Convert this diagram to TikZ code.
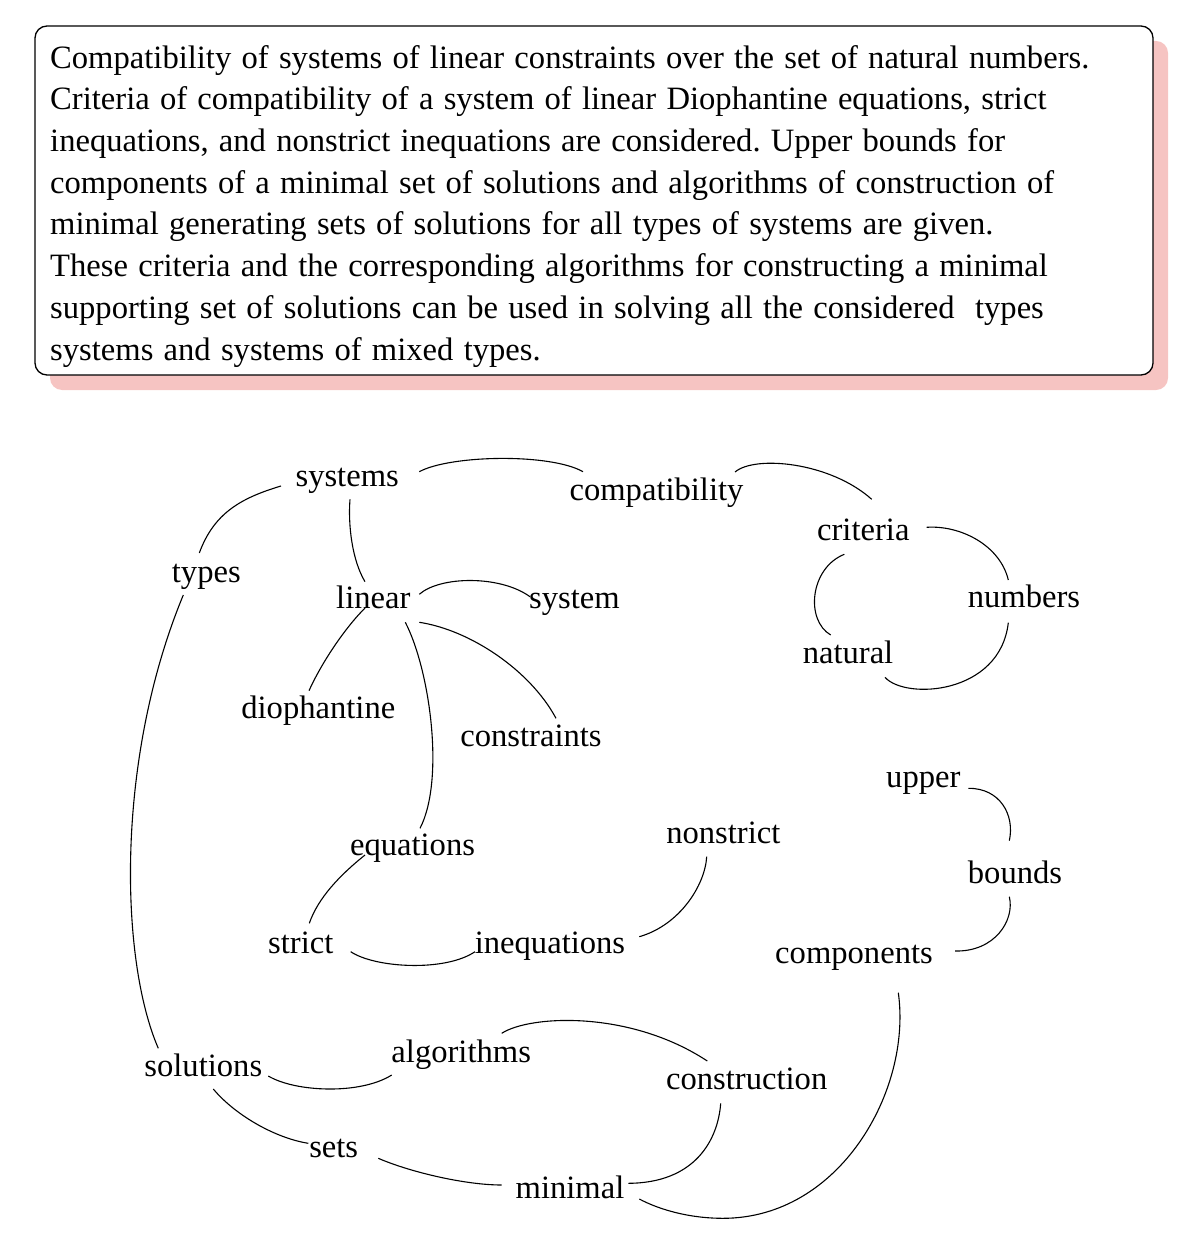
\documentclass[tikz,border=0pt]{standalone}
\usepackage{fontspec}
\setmainfont{Liberation Serif}
\newfontfamily\absfamily{Liberation Serif}[WordSpace={1.26,1,1}]
\usetikzlibrary{calc}
\definecolor{shadowpink}{RGB}{246,196,194}
\tikzset{
  lbl/.style={anchor=base, inner sep=0pt, font=\fontsize{32.6}{39}\selectfont},
  edge/.style={line width=1.1pt, black},
  absbox/.style={draw=black, line width=1.3pt, fill=white, rounded corners=12pt},
  absshadow/.style={fill=shadowpink, rounded corners=12pt},
  abstext/.style={anchor=base west, align=left, inner sep=0pt,
    font=\absfamily\fontsize{32.6}{41.7}\selectfont\frenchspacing}
}
\begin{document}
\begin{tikzpicture}[x=1pt,y=-1pt]
\useasboundingbox (0,0) rectangle (1202,1238);
% abstract box
\fill[absshadow] (50,41) rectangle (1168,390);
\draw[absbox] (35,26) rectangle (1153,375);
% anchor=base of a multi-line node is the baseline of its last line
\node (abstract) [abstext] at (50,360) {Compatibility of systems of linear constraints over the set of natural numbers.\\
Criteria of compatibility of a system of linear Diophantine equations, strict\\
inequations, and nonstrict inequations are considered. Upper bounds for\\
components of a minimal set of solutions and algorithms of construction of\\
minimal generating sets of solutions for all types of systems are given.\\
These criteria and the corresponding algorithms for constructing a minimal\\
supporting set of solutions can be used in solving all the considered\ \ types\\
systems and systems of mixed types.};
% nodes
\node[lbl] (systems) at (347.2,486) {systems};
\node[lbl] (compatibility) at (656.5,500) {compatibility};
\node[lbl] (criteria) at (863.3,540) {criteria};
\node[lbl] (types) at (206.3,582) {types};
\node[lbl] (linear) at (373.3,608) {linear};
\node[lbl] (system) at (574.5,608) {system};
\node[lbl] (numbers) at (1024,607) {numbers};
\node[lbl] (natural) at (848,663) {natural};
\node[lbl] (diophantine) at (318.3,718) {diophantine};
\node[lbl] (constraints) at (531,746) {constraints};
\node[lbl] (upper) at (923.3,787) {upper};
\node[lbl] (nonstrict) at (723.3,843) {nonstrict};
\node[lbl] (equations) at (412.5,855) {equations};
\node[lbl] (bounds) at (1015,883) {bounds};
\node[lbl] (strict) at (300.8,953) {strict};
\node[lbl] (inequations) at (550,953) {inequations};
\node[lbl] (components) at (854,963) {components};
\node[lbl] (solutions) at (203.3,1076) {solutions};
\node[lbl] (algorithms) at (461.2,1062) {algorithms};
\node[lbl] (construction) at (746.7,1089) {construction};
\node[lbl] (sets) at (333.7,1157) {sets};
\node[lbl] (minimal) at (570,1198) {minimal};
% connectors
\draw[edge] ($(systems.base)+(-66.2,0)$) .. controls (241,498) and (214,513) .. ($(types.base)+(-7,-29)$);
\draw[edge] ($(systems.base)+(2.8,13.3)$) .. controls (348,525) and (352,560) .. ($(linear.base)+(-8.3,-26.3)$);
\draw[edge] ($(systems.base)+(72.1,-14.3)$) .. controls (450,455) and (550,453) .. ($(compatibility.base)+(-73.5,-28.3)$);
\draw[edge] ($(types.base)+(-23,13)$) .. controls (115,760) and (120,960) .. ($(solutions.base)+(-45,-27.7)$);
\draw[edge] ($(linear.base)+(46,-13.7)$) .. controls (440,576) and (500,575) .. ($(system.base)+(-44.5,-11.3)$);
\draw[edge] ($(linear.base)+(-8.3,0)$) .. controls (345,628) and (322,662) .. ($(diophantine.base)+(-9.3,-27.3)$);
\draw[edge] ($(linear.base)+(32,14.3)$) .. controls (430,670) and (445,780) .. ($(equations.base)+(7.5,-26.7)$);
\draw[edge] ($(linear.base)+(46,14.3)$) .. controls (470,630) and (530,670) .. ($(constraints.base)+(25,-27.7)$);
\draw[edge] ($(compatibility.base)+(78.5,-28)$) .. controls (755,455) and (830,462) .. ($(criteria.base)+(8.4,-40.7)$);
\draw[edge] ($(criteria.base)+(63.4,-12.7)$) .. controls (960,525) and (1000,545) .. ($(numbers.base)+(-15.7,-27)$);
\draw[edge] ($(criteria.base)+(-19,14.3)$) .. controls (810,568) and (805,620) .. ($(natural.base)+(-17.3,-28)$);
\draw[edge] ($(natural.base)+(37,14.3)$) .. controls (905,700) and (1000,695) .. ($(numbers.base)+(-15.7,15.7)$);
\draw[edge] ($(equations.base)+(-47.5,0)$) .. controls (340,875) and (318,898) .. ($(strict.base)+(8.5,-29.7)$);
\draw[edge] ($(strict.base)+(49.9,-1.3)$) .. controls (375,968) and (445,972) .. ($(inequations.base)+(-75,-1.3)$);
\draw[edge] ($(inequations.base)+(89.3,-16.3)$) .. controls (680,925) and (705,885) .. ($(nonstrict.base)+(-16.6,13.7)$);
\draw[edge] ($(upper.base)+(45,1.3)$) .. controls (1000,788) and (1015,815) .. ($(bounds.base)+(-5.7,-42.3)$);
\draw[edge] ($(bounds.base)+(-5.7,13.7)$) .. controls (1015,920) and (995,952) .. ($(components.base)+(101,-12)$);
\draw[edge] ($(components.base)+(44.3,29.7)$) .. controls (912,1090) and (840,1218.3) .. (723,1218.3) .. controls (690,1218.3) and (660,1210) .. ($(minimal.base)+(69.3,1)$);
\draw[edge] ($(construction.base)+(-26,14.3)$) .. controls (718,1140) and (695,1183) .. ($(minimal.base)+(58.3,-14.7)$);
\draw[edge] ($(solutions.base)+(65,0)$) .. controls (295,1092) and (360,1095) .. ($(algorithms.base)+(-69.5,13)$);
\draw[edge] ($(solutions.base)+(10,13)$) .. controls (235,1115) and (275,1138) .. ($(sets.base)+(-25.4,-13.7)$);
\draw[edge] ($(sets.base)+(44.6,1.3)$) .. controls (410,1172) and (465,1185) .. ($(minimal.base)+(-68.3,-13)$);
\draw[edge] ($(algorithms.base)+(40.5,-28.7)$) .. controls (530,1015) and (630,1010) .. ($(construction.base)+(-39.4,-28)$);
\end{tikzpicture}
\end{document}
